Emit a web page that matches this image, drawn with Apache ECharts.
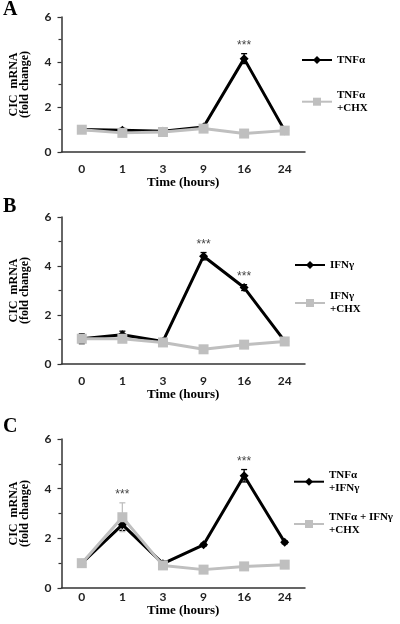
<!DOCTYPE html>
<html>
<head>
<meta charset="utf-8">
<script src="https://cdn.jsdelivr.net/npm/echarts@6/dist/echarts.min.js"></script>
<style>html,body{margin:0;padding:0;background:#fff}#c{width:400px;height:624px}</style>
</head>
<body>
<div id="c"></div>
<script>
const categories = ['0', '1', '3', '9', '16', '24'];
const yMin = 0, yMax = 6, yInterval = 2;

// Panel A
const tnfA      = [1.00, 0.97, 0.92, 1.11, 4.15, 0.95];
const tnfChxA   = [0.99, 0.85, 0.89, 1.04, 0.82, 0.95];
const tnfErrA   = [0.08, 0.08, 0.06, 0.10, 0.22, 0.06];
const tnfChxErrA= [0.05, 0.06, 0.05, 0.08, 0.05, 0.05];
const sigA = [4];
// Panel B
const ifnB      = [1.03, 1.19, 0.92, 4.40, 3.12, 0.93];
const ifnChxB   = [1.03, 1.03, 0.88, 0.60, 0.79, 0.92];
const ifnErrB   = [0.20, 0.15, 0.12, 0.15, 0.12, 0.08];
const ifnChxErrB= [0.05, 0.05, 0.05, 0.04, 0.04, 0.04];
const sigB = [3, 4];
// Panel C
const comboC      = [1.00, 2.55, 0.98, 1.74, 4.52, 1.84];
const comboChxC   = [1.00, 2.85, 0.91, 0.74, 0.87, 0.94];
const comboErrC   = [0.08, 0.23, 0.10, 0.06, 0.25, 0.06];
const comboChxErrC= [0.05, 0.58, 0.05, 0.05, 0.05, 0.06];
const sigC = [1, 4];

const names = [
  ['TNF\u03b1', 'TNF\u03b1\n+CHX'],
  ['IFN\u03b3', 'IFN\u03b3\n+CHX'],
  ['TNF\u03b1\n+IFN\u03b3', 'TNF\u03b1 + IFN\u03b3\n+CHX']
];
const panels = [
  {a: tnfA, b: tnfChxA, ea: tnfErrA, eb: tnfChxErrA, sig: sigA},
  {a: ifnB, b: ifnChxB, ea: ifnErrB, eb: ifnChxErrB, sig: sigB},
  {a: comboC, b: comboChxC, ea: comboErrC, eb: comboChxErrC, sig: sigC}
];

const BLACK = '#000000', GRAY = '#bfbfbf';
const SANS = 'Lato', SERIF = 'Liberation Serif';

const grids = [
  {left: 59, top: 17, width: 246, height: 135},
  {left: 59, top: 217, width: 246, height: 147},
  {left: 59, top: 439, width: 246, height: 149}
];
const xLabelMargin = [11, 11, 3];
const xNameGap = [24, 24, 12];

function errSeries(i, vals, errs, color) {
  return {
    type: 'custom', xAxisIndex: i, yAxisIndex: i, z: 2, silent: true,
    data: vals.map((v, k) => [k, v, errs[k]]),
    encode: {x: 0, y: 1},
    renderItem: function (params, api) {
      const x = api.value(0), y = api.value(1), e = api.value(2);
      const t = api.coord([x, y + e]), b = api.coord([x, y - e]);
      const w = 3;
      const st = {stroke: color, lineWidth: 1.3};
      return {type: 'group', children: [
        {type: 'line', shape: {x1: t[0], y1: t[1], x2: b[0], y2: b[1]}, style: st},
        {type: 'line', shape: {x1: t[0] - w, y1: t[1], x2: t[0] + w, y2: t[1]}, style: st},
        {type: 'line', shape: {x1: b[0] - w, y1: b[1], x2: b[0] + w, y2: b[1]}, style: st}
      ]};
    }
  };
}

function sigSeries(i, p) {
  const data = p.sig.map(k => [k, Math.max(p.a[k] + p.ea[k], p.b[k] + p.eb[k])]);
  return {
    type: 'custom', xAxisIndex: i, yAxisIndex: i, z: 6, silent: true,
    data: data, encode: {x: 0, y: 1},
    renderItem: function (params, api) {
      const c = api.coord([api.value(0), api.value(1)]);
      return {type: 'text', x: c[0], y: c[1] - 8,
        style: {text: '***', fill: '#444', font: '12px "Liberation Sans"', align: 'center', verticalAlign: 'middle'}};
    }
  };
}

const option = {
  animation: false,
  backgroundColor: '#fff',
  title: [
    {text: 'A', left: 3, top: 0},
    {text: 'B', left: 3, top: 197},
    {text: 'C', left: 3, top: 417}
  ].map(t => Object.assign(t, {padding: 0, textStyle: {fontFamily: SERIF, fontWeight: 'bold', fontSize: 20, color: '#000'}})),
  grid: grids,
  xAxis: grids.map((g, i) => ({
    type: 'category', gridIndex: i, data: categories, boundaryGap: true,
    name: 'Time (hours)', nameLocation: 'middle', nameGap: xNameGap[i],
    nameTextStyle: {fontFamily: SERIF, fontWeight: 'bold', fontSize: 13, color: '#000'},
    axisLine: {lineStyle: {color: '#333', width: 1.5}},
    axisTick: {alignWithLabel: true, length: 4, lineStyle: {color: '#333', width: 1.2}},
    axisLabel: {margin: xLabelMargin[i], fontFamily: SANS, fontWeight: 'bold', fontSize: 12, color: '#222'},
    splitLine: {show: false}
  })),
  yAxis: grids.map((g, i) => ({
    type: 'value', gridIndex: i, min: yMin, max: yMax, interval: yInterval,
    name: 'CIC  mRNA\n(fold change)', nameLocation: 'middle', nameGap: 31,
    nameTextStyle: {fontFamily: SERIF, fontWeight: 'bold', fontSize: 12, color: '#000', lineHeight: 11},
    axisLine: {show: true, lineStyle: {color: '#333', width: 1.5}},
    axisTick: {show: true, length: 4, lineStyle: {color: '#333', width: 1.2}},
    minorTick: {show: true, splitNumber: 2, length: 3, lineStyle: {color: '#333', width: 1.2}},
    axisLabel: {margin: 10, fontFamily: SANS, fontWeight: 'bold', fontSize: 12, color: '#222'},
    splitLine: {show: false}
  })),
  legend: [
    {n: names[0][0], left: 301, top: 53.5},
    {n: names[0][1], left: 301, top: 88.7},
    {n: names[1][0], left: 294, top: 258.5},
    {n: names[1][1], left: 294, top: 290},
    {n: names[2][0], left: 293, top: 468.7},
    {n: names[2][1], left: 293, top: 511}
  ].map(l => ({
    data: [l.n], left: l.left, top: l.top, orient: 'vertical', padding: 0,
    selectedMode: false, itemWidth: 30, itemHeight: 10,
    textStyle: {fontFamily: SERIF, fontWeight: 'bold', fontSize: 11, lineHeight: 13, color: '#000'}
  })),
  series: []
};

panels.forEach((p, i) => {
  option.series.push(errSeries(i, p.a, p.ea, BLACK));
  option.series.push(errSeries(i, p.b, p.eb, GRAY));
  option.series.push({
    name: names[i][0], type: 'line', xAxisIndex: i, yAxisIndex: i, data: p.a, z: 3,
    symbol: 'diamond', symbolSize: 9, showSymbol: true,
    itemStyle: {color: BLACK}, lineStyle: {color: BLACK, width: 3}
  });
  option.series.push({
    name: names[i][1], type: 'line', xAxisIndex: i, yAxisIndex: i, data: p.b, z: 4,
    symbol: 'rect', symbolSize: 10, showSymbol: true,
    itemStyle: {color: GRAY}, lineStyle: {color: GRAY, width: 3}
  });
  option.series.push(sigSeries(i, p));
});

const chart = echarts.init(document.getElementById('c'), null, {renderer: 'canvas'});
chart.setOption(option);
</script>
</body>
</html>
